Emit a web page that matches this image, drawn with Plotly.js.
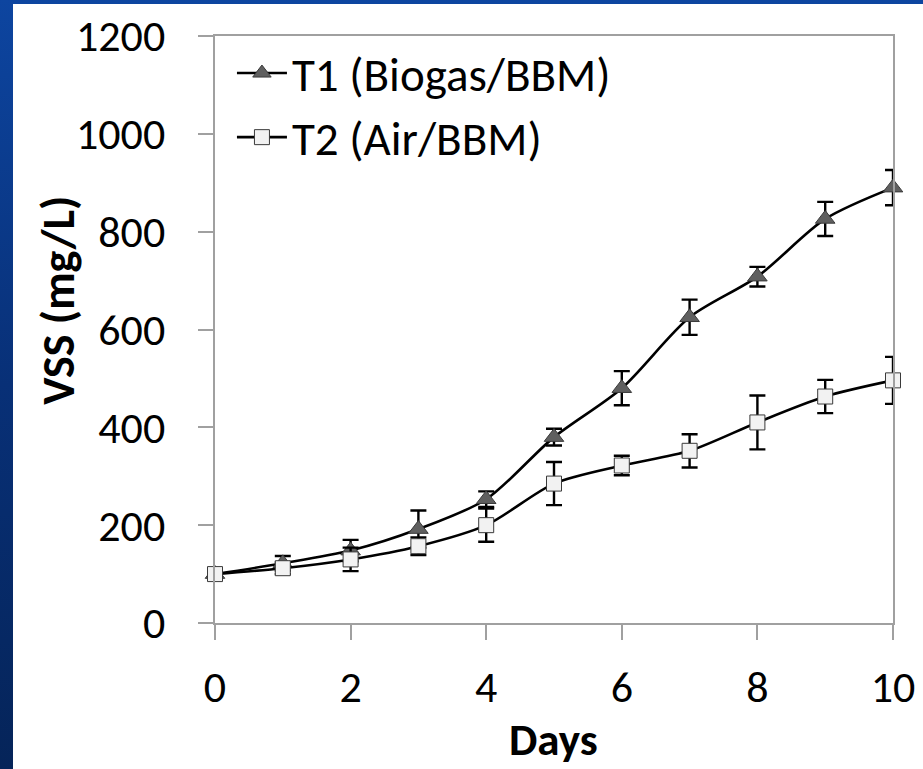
<!DOCTYPE html>
<html>
<head>
<meta charset="utf-8">
<script src="https://cdn.plot.ly/plotly-3.0.1.min.js"></script>
<style>
  html, body { margin: 0; padding: 0; width: 923px; height: 769px; overflow: hidden;
    background: linear-gradient(180deg, #0d45a0 0%, #083077 50%, #052459 100%); }
  #chart { position: absolute; left: 13px; top: 4px; width: 910px; height: 765px; background: #fff; }
</style>
</head>
<body>
<div id="chart"></div>
<script>
const days = [0, 1, 2, 3, 4, 5, 6, 7, 8, 9, 10];
const t1Name = "T1 (Biogas/BBM)";
const t1Values = [100, 122, 148, 192, 253, 380, 480, 625, 708, 826, 890];
const t1Errors = [6, 15, 22, 38, 16, 17, 35, 36, 20, 35, 36];
const t2Name = "T2 (Air/BBM)";
const t2Values = [100, 112, 130, 157, 200, 285, 322, 352, 410, 463, 496];
const t2Errors = [6, 12, 24, 18, 34, 44, 20, 34, 55, 34, 48];
const xTickVals = [0, 2, 4, 6, 8, 10];
const yTickVals = [0, 200, 400, 600, 800, 1000, 1200];
const xTitle = "Days";
const yTitle = "VSS (mg/L)";

const FONT = "Carlito, Calibri, Lato, sans-serif";

const errStyle = { type: "data", visible: true, thickness: 2.4, width: 8, color: "#000" };

const traces = [
  {
    x: days, y: t1Values, name: t1Name, type: "scatter", mode: "lines+markers",
    line: { color: "#000", width: 2.6, shape: "spline", smoothing: 0.8 },
    marker: { symbol: "triangle-up", size: 17, color: "#5f5f5f", line: { color: "#3a3a3a", width: 1 } },
    error_y: Object.assign({ array: t1Errors }, errStyle),
    cliponaxis: false
  },
  {
    x: days, y: t2Values, name: t2Name, type: "scatter", mode: "lines+markers",
    line: { color: "#000", width: 2.6, shape: "spline", smoothing: 0.8 },
    marker: { symbol: "square", size: 15, color: "#f2f2f2", line: { color: "#3a3a3a", width: 1 } },
    error_y: Object.assign({ array: t2Errors }, errStyle),
    cliponaxis: false
  }
];

const layout = {
  width: 910, height: 765,
  margin: { l: 202, r: 30, t: 32, b: 146 },
  paper_bgcolor: "#ffffff", plot_bgcolor: "#ffffff",
  font: { family: FONT, color: "#000" },
  showlegend: true,
  legend: {
    x: 0.025, y: 1.0, xanchor: "left", yanchor: "top",
    bgcolor: "rgba(255,255,255,0)", borderwidth: 0,
    font: { family: FONT, size: 47, color: "#000" },
    tracegroupgap: 0, itemwidth: 50
  },
  xaxis: {
    range: [0, 10], tickvals: xTickVals, ticktext: xTickVals.map(String),
    showgrid: false, zeroline: false,
    showline: true, linecolor: "#a0a0a0", linewidth: 2, mirror: true,
    ticks: "outside", ticklen: 15, tickwidth: 2, tickcolor: "#a0a0a0",
    tickfont: { family: FONT, size: 44, color: "#000" },
    ticklabelstandoff: 9,
    automargin: false
  },
  yaxis: {
    range: [0, 1200], tickvals: yTickVals, ticktext: yTickVals.map(String),
    showgrid: false, zeroline: false,
    showline: true, linecolor: "#a0a0a0", linewidth: 2, mirror: true,
    ticks: "outside", ticklen: 15, tickwidth: 2, tickcolor: "#a0a0a0",
    tickfont: { family: FONT, size: 44, color: "#000" },
    ticklabelstandoff: 24,
    automargin: false
  },
  annotations: [
    {
      text: "<b>" + xTitle + "</b>", xref: "paper", yref: "paper",
      x: 0.499, y: -0.199, xanchor: "center", yanchor: "middle", showarrow: false,
      font: { family: FONT, size: 45, color: "#000" }
    },
    {
      text: "<b>" + yTitle + "</b>", xref: "paper", yref: "paper", textangle: -90,
      x: -0.232, y: 0.55, xanchor: "center", yanchor: "middle", showarrow: false,
      font: { family: FONT, size: 46, color: "#000" }
    }
  ]
};

Plotly.newPlot("chart", traces, layout, { displayModeBar: false, staticPlot: true });
</script>
</body>
</html>
